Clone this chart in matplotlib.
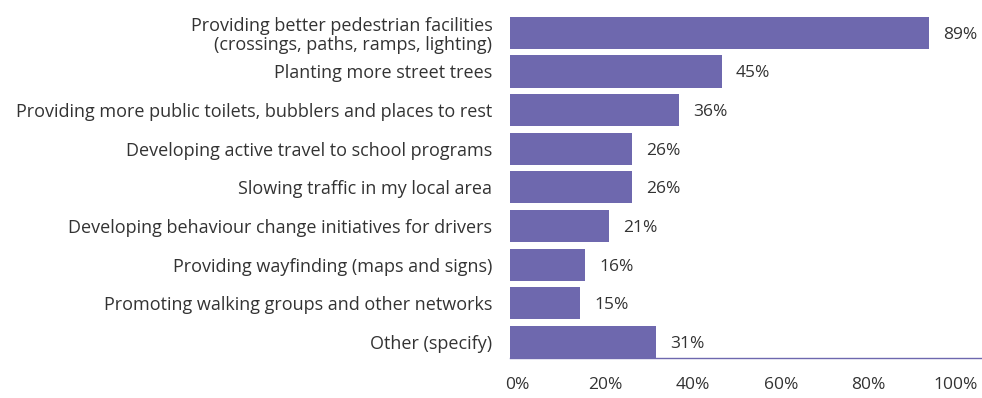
import matplotlib.pyplot as plt

# Dados
categorias = [
    'Providing better pedestrian facilities\n(crossings, paths, ramps, lighting)',
    'Planting more street trees',
    'Providing more public toilets, bubblers and places to rest',
    'Developing active travel to school programs',
    'Slowing traffic in my local area',
    'Developing behaviour change initiatives for drivers',
    'Providing wayfinding (maps and signs)',
    'Promoting walking groups and other networks',
    'Other (specify)',
]
valores = [89, 45, 36, 26, 26, 21, 16, 15, 31]
ticks = [0, 20, 40, 60, 80, 100]
tick_labels = ['0%', '20%', '40%', '60%', '80%', '100%']

plt.rcParams['font.family'] = ['Open Sans', 'DejaVu Sans']
cor = '#6E68AE'
texto = '#333333'
fs = 13

fig = plt.figure(figsize=(9.82, 3.98), dpi=100)
ax = fig.add_axes([0.519, 0.1005, 0.48, 0.8655])

pos = list(range(len(categorias)))
ax.barh(pos, valores, height=0.83, color=cor)

for y, v in zip(pos, valores):
    ax.text(v + 3, y + 0.05, f'{v}%', va='center', ha='left', fontsize=fs - 0.5, color=texto)

ax.set_xlim(0, 100)
ax.set_ylim(8.415, -0.5)
ax.set_yticks(pos)
ax.set_yticklabels(categorias, fontsize=fs, color=texto, linespacing=1.1)
# os rótulos do eixo x ficam um pouco deslocados para a esquerda no original
ax.set_xticks([1.7 + t * 0.93 for t in ticks])
ax.set_xticklabels(tick_labels, fontsize=fs - 0.5, color=texto)
ax.tick_params(axis='y', length=0, pad=12.5)
ax.tick_params(axis='x', length=0, pad=14)

for lado in ['top', 'right', 'left']:
    ax.spines[lado].set_visible(False)
ax.spines['bottom'].set_color(cor)
ax.spines['bottom'].set_linewidth(1)

fig.savefig('out.png', dpi=100)
